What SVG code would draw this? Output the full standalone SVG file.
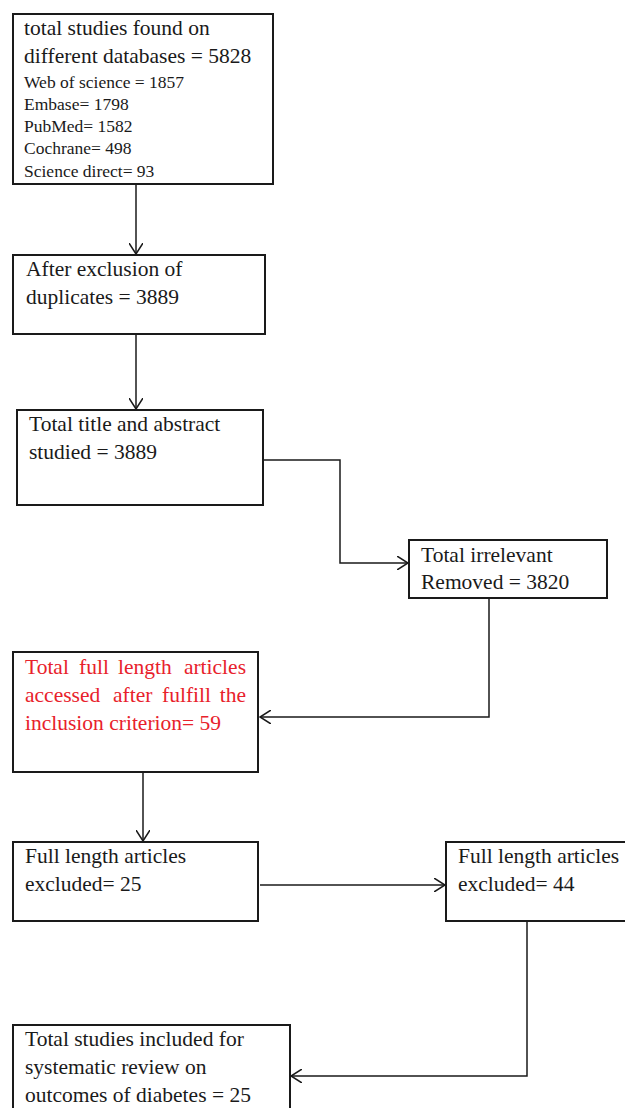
<svg xmlns="http://www.w3.org/2000/svg" width="625" height="1108" viewBox="0 0 625 1108">
<style>
.box{fill:#fff;stroke:#1a1a1a;stroke-width:2}
.t{font-family:"Liberation Serif","Times New Roman",serif;font-size:21.5px;fill:#1a1a1a}
.s{font-family:"Liberation Serif","Times New Roman",serif;font-size:17.5px;fill:#1a1a1a}
.r{font-family:"Liberation Serif","Times New Roman",serif;font-size:21.5px;fill:#e8212b}
.c{fill:none;stroke:#1a1a1a;stroke-width:1.5}
</style>
<defs>
<marker id="a" markerWidth="12" markerHeight="14" refX="11" refY="7" orient="auto" markerUnits="userSpaceOnUse">
<path d="M0,0 L11,7 L0,14" fill="none" stroke="#1a1a1a" stroke-width="1.5"/>
</marker>
</defs>
<rect width="625" height="1108" fill="#fff"/>
<g id="connectors">
<path class="c" d="M136,184 V254" marker-end="url(#a)"/>
<path class="c" d="M136,334 V409" marker-end="url(#a)"/>
<path class="c" d="M263,460 H340 V563 H408" marker-end="url(#a)"/>
<path class="c" d="M489,598 V717 H260" marker-end="url(#a)"/>
<path class="c" d="M143,772 V841" marker-end="url(#a)"/>
<path class="c" d="M260,885 H445" marker-end="url(#a)"/>
<path class="c" d="M527,921 V1076 H291" marker-end="url(#a)"/>
</g>
<g id="n1">
<rect class="box" x="13" y="14" width="260" height="170"/>
<text class="t" x="24" y="35">total studies found on</text>
<text class="t" x="24" y="63">different databases = 5828</text>
<text class="s" x="24" y="88">Web of science = 1857</text>
<text class="s" x="24" y="110">Embase= 1798</text>
<text class="s" x="24" y="132">PubMed= 1582</text>
<text class="s" x="24" y="154">Cochrane= 498</text>
<text class="s" x="24" y="177">Science direct= 93</text>
</g>
<g id="n2">
<rect class="box" x="13" y="255" width="252" height="79"/>
<text class="t" x="26" y="276">After exclusion of</text>
<text class="t" x="26" y="304">duplicates = 3889</text>
</g>
<g id="n3">
<rect class="box" x="17" y="410" width="246" height="95"/>
<text class="t" x="29" y="431">Total title and abstract</text>
<text class="t" x="29" y="459">studied = 3889</text>
</g>
<g id="n4">
<rect class="box" x="409" y="540" width="198" height="58"/>
<text class="t" x="421" y="562">Total irrelevant</text>
<text class="t" x="421" y="589">Removed = 3820</text>
</g>
<g id="n5">
<rect class="box" x="13" y="652" width="245" height="120"/>
<text class="r" y="674"><tspan x="25">Total</tspan><tspan x="79">full</tspan><tspan x="118">length</tspan><tspan x="246" text-anchor="end">articles</tspan></text>
<text class="r" y="702"><tspan x="25">accessed</tspan><tspan x="113">after</tspan><tspan x="162">fulfill</tspan><tspan x="246" text-anchor="end">the</tspan></text>
<text class="r" x="25" y="730">inclusion criterion= 59</text>
</g>
<g id="n6">
<rect class="box" x="13" y="842" width="245" height="79"/>
<text class="t" x="25" y="863">Full length articles</text>
<text class="t" x="25" y="891">excluded= 25</text>
</g>
<g id="n7">
<rect class="box" x="446" y="842" width="190" height="79"/>
<text class="t" x="458" y="863">Full length articles</text>
<text class="t" x="458" y="891">excluded= 44</text>
</g>
<g id="n8">
<rect class="box" x="13" y="1025" width="277" height="95"/>
<text class="t" x="25" y="1046">Total studies included for</text>
<text class="t" x="25" y="1074">systematic review on</text>
<text class="t" x="25" y="1102">outcomes of diabetes = 25</text>
</g>
</svg>
